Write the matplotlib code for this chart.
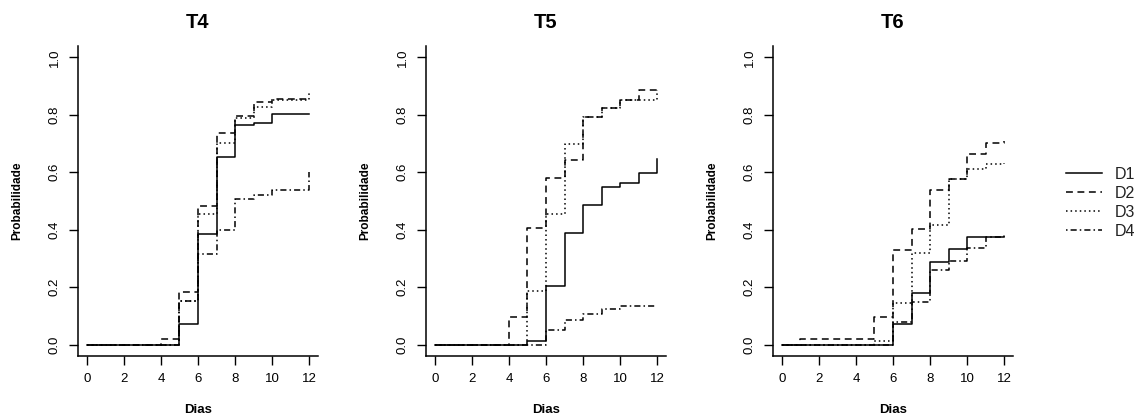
import matplotlib.pyplot as plt
import numpy as np

plt.rcParams['font.family'] = ['Liberation Sans', 'DejaVu Sans']

dias = [0, 1, 2, 3, 4, 5, 6, 7, 8, 9, 10, 11, 12]
grupos = ['D1', 'D2', 'D3', 'D4']
titulos = ['T4', 'T5', 'T6']

# probabilidade acumulada por dia (curvas em escada)
t4_d1 = [0, 0, 0, 0, 0, 0.07, 0.386, 0.653, 0.764, 0.771, 0.803, 0.803, 0.803]
t4_d2 = [0, 0, 0, 0, 0.02, 0.184, 0.483, 0.738, 0.797, 0.845, 0.855, 0.855, 0.855]
t4_d3 = [0, 0, 0, 0, 0, 0.151, 0.453, 0.701, 0.79, 0.826, 0.853, 0.853, 0.875]
t4_d4 = [0, 0, 0, 0, 0, 0.151, 0.314, 0.398, 0.508, 0.52, 0.54, 0.54, 0.60]

t5_d1 = [0, 0, 0, 0, 0, 0.012, 0.203, 0.39, 0.485, 0.55, 0.562, 0.599, 0.648]
t5_d2 = [0, 0, 0, 0, 0.095, 0.405, 0.579, 0.642, 0.794, 0.825, 0.852, 0.888, 0.888]
t5_d3 = [0, 0, 0, 0, 0, 0.186, 0.456, 0.70, 0.794, 0.825, 0.852, 0.852, 0.888]
t5_d4 = [0, 0, 0, 0, 0, 0, 0.05, 0.085, 0.107, 0.124, 0.134, 0.134, 0.134]

t6_d1 = [0, 0, 0, 0, 0, 0, 0.073, 0.18, 0.288, 0.332, 0.376, 0.376, 0.376]
t6_d2 = [0, 0.02, 0.02, 0.02, 0.02, 0.097, 0.329, 0.402, 0.54, 0.575, 0.662, 0.703, 0.709]
t6_d3 = [0, 0, 0, 0, 0, 0.012, 0.143, 0.32, 0.418, 0.575, 0.61, 0.63, 0.633]
t6_d4 = [0, 0, 0, 0, 0, 0, 0.078, 0.148, 0.26, 0.291, 0.336, 0.376, 0.39]

dados = [[t4_d1, t4_d2, t4_d3, t4_d4],
         [t5_d1, t5_d2, t5_d3, t5_d4],
         [t6_d1, t6_d2, t6_d3, t6_d4]]

estilos = ['-', (0, (4.5, 3)), (0, (1, 2)), (0, (1, 2, 4, 2))]

fig = plt.figure(figsize=(11.44, 4.19), dpi=100)
fig.set_facecolor('white')

lefts = [78, 426, 773]
for k in range(3):
    ax = fig.add_axes([lefts[k] / 1144, 63 / 419, 240 / 1144, 310 / 419])
    for j in range(4):
        ax.step(dias, dados[k][j], where='post', color='black',
                linewidth=1.1, linestyle=estilos[j], label=grupos[j])
    ax.set_xlim(-0.48, 12.48)
    ax.set_ylim(-0.04, 1.04)
    ax.set_xticks(np.arange(0, 13, 2))
    ax.set_yticks(np.arange(0, 1.01, 0.2))
    ax.set_yticklabels(['0.0', '0.2', '0.4', '0.6', '0.8', '1.0'],
                       rotation=90, va='center')
    ax.spines['top'].set_visible(False)
    ax.spines['right'].set_visible(False)
    ax.spines['left'].set_linewidth(1.1)
    ax.spines['bottom'].set_linewidth(1.1)
    ax.tick_params(direction='out', length=6.5, width=1.0, labelsize=9.5)
    ax.tick_params(axis='x', pad=6)
    ax.tick_params(axis='y', pad=6)
    ax.set_title(titulos[k], fontsize=14.5, fontweight='bold', pad=13)
    ax.set_xlabel('Dias', fontsize=9.5, fontweight='bold')
    ax.set_ylabel('Probabilidade', fontsize=8.5, fontweight='bold')
    ax.xaxis.set_label_coords(0.5, -0.155)
    ax.yaxis.set_label_coords(-0.229, 0.5)
    if k == 0:
        handles, labels = ax.get_legend_handles_labels()

leg = fig.legend(handles, labels, loc='center left',
                 bbox_to_anchor=(1052 / 1144, 1 - 203 / 419),
                 frameon=False, fontsize=11.5, handlelength=2.2,
                 handletextpad=0.8, labelspacing=0.25)
for t in leg.get_texts():
    t.set_color('#222222')

plt.savefig('out.png', dpi=100)
